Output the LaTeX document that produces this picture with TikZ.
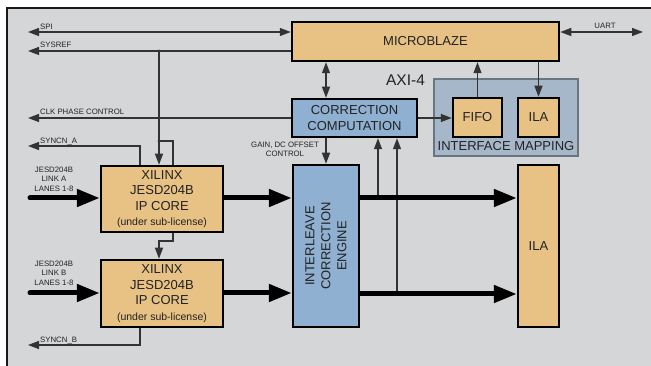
\documentclass[tikz,border=0pt]{standalone}
\usepackage{fontspec}
\setmainfont{Liberation Sans}
\usetikzlibrary{arrows.meta}
\definecolor{bgc}{HTML}{D5D6D8}
\definecolor{orng}{HTML}{E8C285}
\definecolor{blu}{HTML}{90B0D2}
\definecolor{imfill}{HTML}{A6B7C9}
\definecolor{imdraw}{HTML}{6B7580}
\definecolor{wire}{HTML}{333333}
\definecolor{txt}{HTML}{222222}
\tikzset{
  blk/.style={draw=black, line width=2.5pt, inner sep=0pt, text=txt, align=center,
    font=\fontsize{13}{15.5}\selectfont},
  orbox/.style={blk, fill=orng},
  blbox/.style={blk, fill=blu},
  wireline/.style={draw=wire, line width=1.2pt},
  sarr/.style={wireline, -{Triangle[length=11pt,width=8pt]}},
  darr/.style={wireline, {Triangle[length=11pt,width=8pt]}-{Triangle[length=11pt,width=8pt]}},
  barr/.style={draw=black, line width=5pt, -{Triangle[length=23pt,width=17pt]}},
  slab/.style={font=\fontsize{7.8}{9}\selectfont, text=txt, inner sep=0pt},
}
\begin{document}
\begin{tikzpicture}[x=1pt,y=-1pt]
\useasboundingbox (0,0) rectangle (651,366);
\fill[bgc] (7,8) rectangle (651,366);
\draw[line width=1.6pt, black!90] (7,366) -- (7,8) -- (651,8);

% blocks
\node[orbox, minimum width=267pt, minimum height=39pt] (mb) at (425.5,41.5) {MICROBLAZE};
\node[blbox, minimum width=125pt, minimum height=38pt] (corr) at (354.5,118) {CORRECTION\\COMPUTATION};
\node[draw=imdraw, fill=imfill, line width=2.5pt, minimum width=144pt, minimum height=77pt, inner sep=0pt] (imap) at (506,117.5) {};
\node[orbox, minimum width=49pt, minimum height=39pt] (fifo) at (477.5,117.5) {FIFO};
\node[orbox, minimum width=41pt, minimum height=39pt] (ilas) at (538.5,117.5) {ILA};
\node[anchor=base, font=\fontsize{13}{15}\selectfont, text=txt, inner sep=0pt] (imlab) at (506,150.5) {INTERFACE MAPPING};
\node[anchor=base, font=\fontsize{15.5}{18}\selectfont, text=txt, inner sep=0pt] (axi) at (405.5,85.5) {AXI-4};

\node[blbox, minimum width=66pt, minimum height=162pt] (eng) at (326,246) {};
\node[rotate=90, align=center, font=\fontsize{13}{16}\selectfont, text=txt, inner sep=0pt] (englab) at (eng.center) {INTERLEAVE\\CORRECTION\\ENGINE};
\node[orbox, minimum width=41pt, minimum height=162pt] (ilab) at (538.5,246) {ILA};

\node[orbox, minimum width=122pt, minimum height=66pt] (xa) at (162,199) {XILINX\\JESD204B\\IP CORE\\{\fontsize{10.5}{12}\selectfont(under sub-license)}};
\node[orbox, minimum width=122pt, minimum height=67pt] (xb) at (162,293.5) {XILINX\\JESD204B\\IP CORE\\{\fontsize{10.5}{12}\selectfont(under sub-license)}};

% coordinates
\coordinate (spiL) at (28,32);
\coordinate (sysL) at (28,51);
\coordinate (sysJ) at (159,51);
\coordinate (sysK) at (159,141);
\coordinate (sysR) at (173,141);
\coordinate (sysM) at (173,241);
\coordinate (sysN) at (159,241);
\coordinate (clkL) at (28,118);
\coordinate (synaT) at (140,146);
\coordinate (synaL) at (28,146);
\coordinate (synbT) at (140,345);
\coordinate (synbL) at (28,345);
\coordinate (uartR) at (643,32);
\coordinate (upA) at (378,198);
\coordinate (upB) at (397,294);
\coordinate (inA) at (30,198);
\coordinate (inB) at (30,293);

% thin wires
\draw[darr] (spiL) -- (spiL -| mb.west);
\draw[sarr] (sysL -| mb.west) -- (sysL);
\fill[wire] (sysJ) circle (1.6pt);
\draw[sarr] (sysJ) -- (sysJ |- xa.north);
\fill[wire] (sysK) circle (1.6pt);
\draw[wireline] (sysK) -- (sysR) -- (sysR |- xa.north);
\draw[sarr] (sysM |- xa.south) -- (sysM) -- (sysN) -- (sysN |- xb.north);
\draw[sarr] (synaT |- xa.north) -- (synaT) -- (synaL);
\draw[sarr] (corr.west) -- (clkL);
\draw[sarr] (synbT |- xb.south) -- (synbT) -- (synbL);
\draw[darr] (mb.south -| eng.north) -- (corr.north -| eng.north);
\draw[sarr] (corr.south -| eng.north) -- (eng.north);
\draw[sarr] (upA) -- (upA |- corr.south);
\draw[sarr] (upB) -- (upB |- corr.south);
\draw[sarr] (corr.east) -- (corr.east -| fifo.west);
\draw[sarr] (fifo.north) -- (fifo.north |- mb.south);
\draw[sarr] (mb.south -| ilas.north) -- (ilas.north);
\draw[darr] (spiL -| mb.east) -- (uartR);

% thick arrows
\draw[barr, line cap=round] (inA) -- (inA -| xa.west);
\draw[barr, line cap=round] (inB) -- (inB -| xb.west);
\draw[barr] (xa.east |- inA) -- (eng.west |- inA);
\draw[barr] (xb.east |- inB) -- (eng.west |- inB);
\draw[barr] (eng.east |- upA) -- (ilab.west |- upA);
\draw[barr] (eng.east |- upB) -- (ilab.west |- upB);

% labels
\node[slab, anchor=base west] (lspi) at (40,29.5) {SPI};
\node[slab, anchor=base west] (lsys) at (40,48) {SYSREF};
\node[slab, anchor=base west] (lclk) at (40,115) {CLK PHASE CONTROL};
\node[slab, anchor=base west] (lsyna) at (40,143.5) {SYNCN\_A};
\node[slab, anchor=base west] (lsynb) at (40,342.5) {SYNCN\_B};
\node[slab, anchor=base] (luart) at (605,28.5) {UART};
\node[slab, anchor=base, align=center] (lgain1) at (285,148) {GAIN, DC OFFSET};
\node[slab, anchor=base] (lgain2) at (285,157) {CONTROL};
\node[slab, anchor=base] (la1) at (54,173) {JESD204B};
\node[slab, anchor=base] (la2) at (54,182) {LINK A};
\node[slab, anchor=base] (la3) at (54,191.5) {LANES 1-8};
\node[slab, anchor=base] (lb1) at (54,267) {JESD204B};
\node[slab, anchor=base] (lb2) at (54,276) {LINK B};
\node[slab, anchor=base] (lb3) at (54,285.5) {LANES 1-8};
\end{tikzpicture}
\end{document}
